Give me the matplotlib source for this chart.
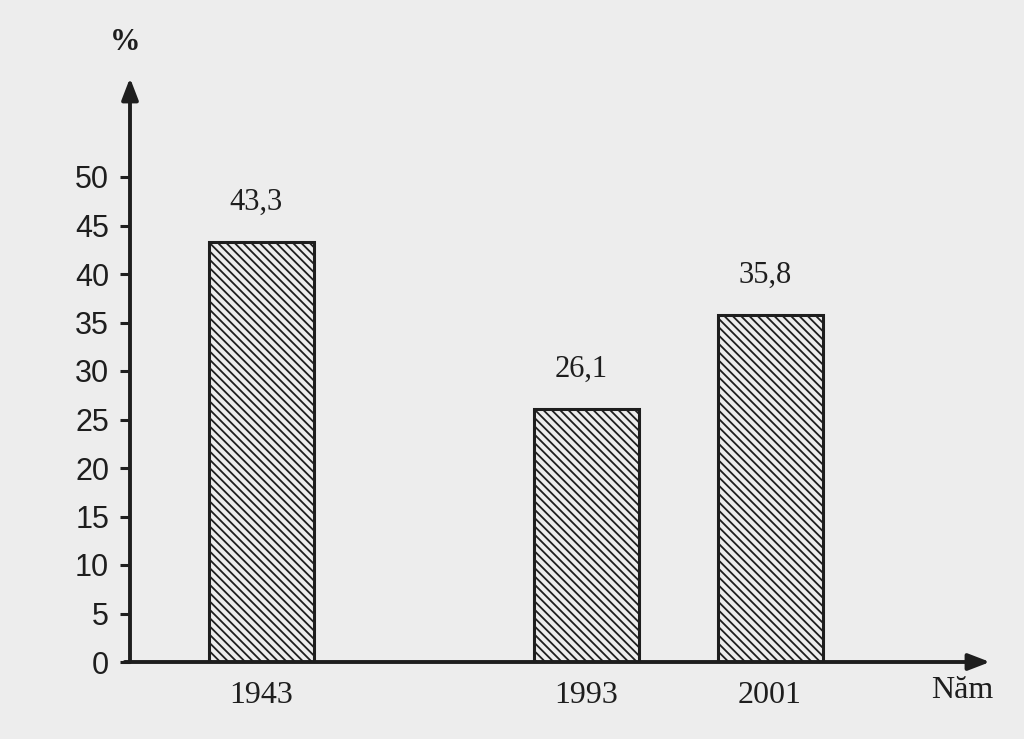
import matplotlib.pyplot as plt

years = ["1943", "1993", "2001"]
values = [43.3, 26.1, 35.8]
value_labels = ["43,3", "26,1", "35,8"]
y_ticks = [0, 5, 10, 15, 20, 25, 30, 35, 40, 45, 50]

# bar centres in pixels from the y axis (the years are not evenly spaced)
bar_x = [131, 456, 640]
bar_w = 105

plt.rcParams["hatch.linewidth"] = 1.3
bg = "#ededed"
ink = "#1e1e1e"

fig = plt.figure(figsize=(10.24, 7.39), dpi=100, facecolor=bg)
ax = fig.add_axes([130 / 1024, 77 / 739, 860 / 1024, 584 / 739])
ax.set_facecolor(bg)
ax.set_xlim(0, 860)
ax.set_ylim(0, 584 / 9.7)

ax.bar(bar_x, values, width=bar_w, facecolor=bg, edgecolor=ink,
       linewidth=2.2, hatch="\\\\\\\\")

for x, v, lab in zip(bar_x, values, value_labels):
    ax.text(x - 5, v + 2.6, lab, ha="center", va="bottom", fontsize=22,
            family="Liberation Serif", color=ink)

for x, yr in zip(bar_x, years):
    ax.text(x, -2.0, yr, ha="center", va="top", fontsize=23,
            family="Liberation Serif", color=ink)

for s in ax.spines.values():
    s.set_visible(False)

ax.set_xticks([])
ax.set_yticks(y_ticks)
ax.set_yticklabels([str(t) for t in y_ticks], family="Liberation Sans",
                   fontsize=22, color=ink)
ax.tick_params(axis="y", length=7, width=2.2, color=ink, pad=8)

ax.annotate("", xy=(0, 1), xytext=(0, 0), xycoords="axes fraction",
            arrowprops=dict(arrowstyle="-|>,head_length=1.3,head_width=0.5",
                            color=ink, lw=2.8, shrinkA=0, shrinkB=0))
ax.annotate("", xy=(1, 0), xytext=(-0.006, 0), xycoords="axes fraction",
            arrowprops=dict(arrowstyle="-|>,head_length=1.3,head_width=0.5",
                            color=ink, lw=2.8, shrinkA=0, shrinkB=0))

fig.text(125 / 1024, 1 - 42 / 739, "%", ha="center", va="center",
         fontsize=22, family="Liberation Serif", weight="bold", color=ink)
fig.text(962 / 1024, 1 - 690 / 739, "Năm", ha="center", va="center",
         fontsize=23, family="Liberation Serif", color=ink)

fig.savefig("out.png", dpi=100, facecolor=bg)
